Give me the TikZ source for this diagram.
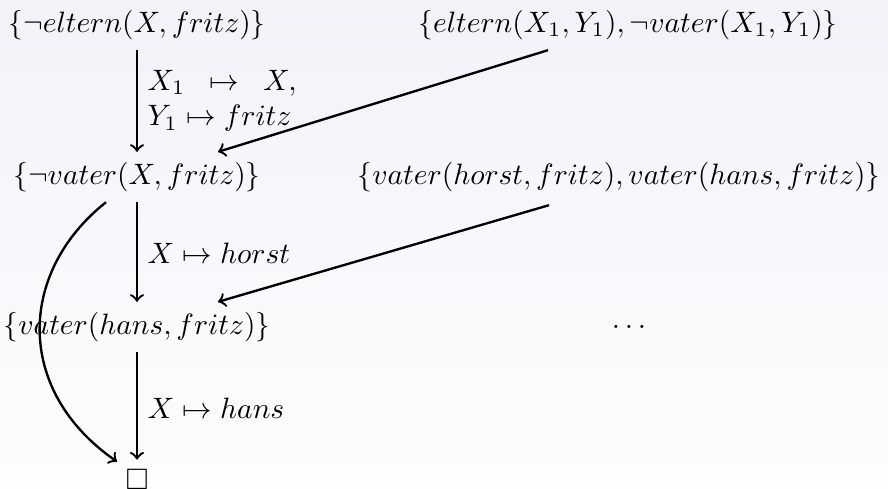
\documentclass[tikz,border=0pt]{standalone}
\usepackage{amssymb}
\usetikzlibrary{calc}
\definecolor{bgtop}{RGB}{241,243,248}
\definecolor{bgbot}{RGB}{253,253,254}
\begin{document}
\begin{tikzpicture}[x=0.339pt,y=-0.339pt,
  arr/.style={->,thick},
  lbl/.style={anchor=west,inner sep=0pt}]
\useasboundingbox (0,0) rectangle (888,488);
\shade[top color=bgtop,bottom color=bgbot] (0,0) rectangle (888,488);
\node (n1) at (137,25) {$\{\neg eltern(X, fritz)\}$};
\node (n2) at (628,25) {$\{eltern(X_1, Y_1), \neg vater(X_1, Y_1)\}$};
\node (n3) at (137,177) {$\{\neg vater(X, fritz)\}$};
\node (n4) at (619,177) {$\{vater(horst, fritz), vater(hans, fritz)\}$};
\node (n5) at (137,327) {$\{vater(hans, fritz)\}$};
\node (dots) at (629,327) {$\dots$};
\node (box) at (137,480) {$\square$};
\draw[arr] (n1) -- (n3);
\draw[arr] (n3) -- (n5);
\draw[arr] (n5) -- (box);
\draw[arr] ($(n2.south)+(-80,0)$) -- ($(n3.north)+(81,0)$);
\draw[arr] ($(n4.south)+(-70,3)$) -- ($(n5.north)+(81,0)$);
\draw[arr] ($(n3.south)+(-31,0)$) .. controls (17,273) and (15,391) .. ($(box.north)+(-20,2)$);
\node[lbl,align=left] (l1) at (147,101) {\hbox to 50.5pt{$X_1$\hfil$\mapsto$\hfil$X,$}\\ $Y_1 \mapsto fritz$};
\node[lbl] (l2) at (147,253) {$X \mapsto horst$};
\node[lbl] (l3) at (147,408) {$X \mapsto hans$};
\end{tikzpicture}
\end{document}
